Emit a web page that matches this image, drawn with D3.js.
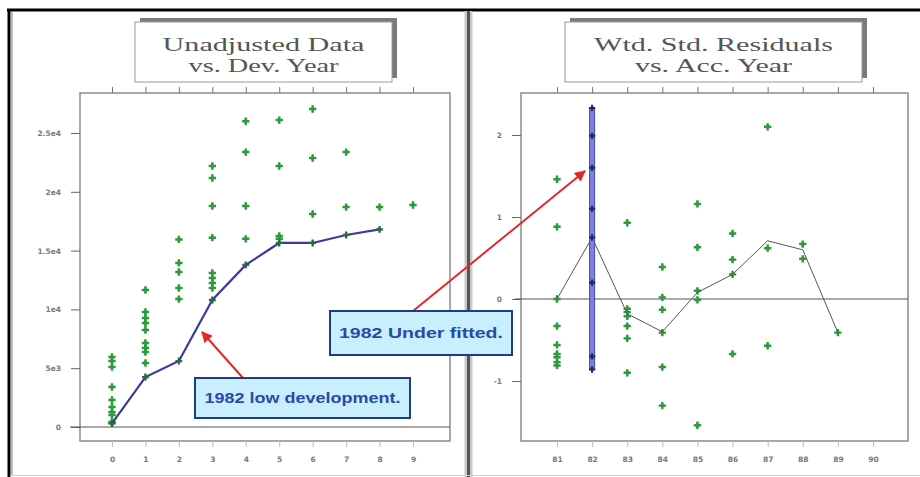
<!DOCTYPE html>
<html>
<head>
<meta charset="utf-8">
<script src="https://cdn.jsdelivr.net/npm/d3@7"></script>
<style>
  html, body { margin: 0; padding: 0; background: #fff; }
  svg { display: block; }
</style>
</head>
<body>
<svg id="chart" width="920" height="477"></svg>
<script>
// ---- Data: development triangle, unadjusted incremental values by development year
const devYears = [0, 1, 2, 3, 4, 5, 6, 7, 8, 9];
const devTickLabels = ["0", "1", "2", "3", "4", "5", "6", "7", "8", "9"];
const devValueTicks = [0, 5000, 10000, 15000, 20000, 25000];
const devValueTickLabels = ["0", "5e3", "1e4", "1.5e4", "2e4", "2.5e4"];
const devObserved = [
  [5950, 5610, 5100, 3400, 2300, 1700, 1280, 1020, 425, 340],
  [11650, 9780, 9270, 8840, 8250, 7140, 6720, 6380, 5440],
  [15950, 13950, 13180, 11820, 10880],
  [22190, 21170, 18790, 16100, 13100, 12670, 12240, 11820],
  [26000, 23380, 18790, 16000],
  [26100, 22190, 16250, 16000],
  [27040, 22870, 18110],
  [23380, 18700],
  [18700],
  [18880]
];
// 1982 accident year path across development years 0..8
const path1982 = [300, 4250, 5610, 10800, 13780, 15650, 15650, 16330, 16800];

// ---- Data: weighted standardised residuals by accident year
const accYears = [81, 82, 83, 84, 85, 86, 87, 88, 89, 90];
const accTickLabels = ["81", "82", "83", "84", "85", "86", "87", "88", "89", "90"];
const residTicks = [-1, 0, 1, 2];
const residTickLabels = ["-1", "0", "1", "2"];
const residuals = [
  [1.46, 0.88, 0.0, -0.33, -0.56, -0.67, -0.71, -0.77, -0.81],
  [],
  [0.93, -0.12, -0.16, -0.21, -0.33, -0.48, -0.9],
  [0.39, 0.02, -0.13, -0.41, -0.83, -1.3],
  [1.16, 0.63, 0.1, -0.01, -1.54],
  [0.8, 0.48, 0.3, -0.67],
  [2.1, 0.62, -0.57],
  [0.67, 0.49],
  [-0.41],
  []
];
const residuals1982 = [2.33, 1.99, 1.60, 1.10, 0.75, 0.2, -0.7, -0.86];
const residMeans = [0, 0.75, -0.18, -0.4, 0.08, 0.3, 0.71, 0.6, -0.41];

const svg = d3.select("#chart");
const GREEN = "#2f9a3c";

// red arrowhead marker
svg.append("defs").append("marker")
  .attr("id", "redArrow")
  .attr("viewBox", "0 0 10 10")
  .attr("refX", 9).attr("refY", 5)
  .attr("markerWidth", 13).attr("markerHeight", 11)
  .attr("markerUnits", "userSpaceOnUse")
  .attr("orient", "auto")
  .append("path").attr("d", "M0,0 L10,5 L0,10 Z").attr("fill", "#e3262a");

// ---- page frame
svg.append("rect").attr("x", 0).attr("y", 0).attr("width", 920).attr("height", 477).attr("fill", "#fff");
svg.append("line").attr("x1", 7).attr("x2", 920).attr("y1", 10).attr("y2", 10).attr("stroke", "#000").attr("stroke-width", 3);
svg.append("line").attr("x1", 9).attr("x2", 9).attr("y1", 9).attr("y2", 477).attr("stroke", "#000").attr("stroke-width", 3);
svg.append("line").attr("x1", 12).attr("x2", 12).attr("y1", 12).attr("y2", 475).attr("stroke", "#bbb").attr("stroke-width", 2);
svg.append("line").attr("x1", 468.5).attr("x2", 468.5).attr("y1", 11).attr("y2", 477).attr("stroke", "#c8c8c8").attr("stroke-width", 8);
svg.append("line").attr("x1", 468.5).attr("x2", 468.5).attr("y1", 11).attr("y2", 477).attr("stroke", "#555").attr("stroke-width", 3);
svg.append("line").attr("x1", 10).attr("x2", 920).attr("y1", 475.5).attr("y2", 475.5).attr("stroke", "#d0d0d0").attr("stroke-width", 1);

// ---- shared drawing helpers
function titleBox(x, y, w, h, lines, widths) {
  const g = svg.append("g");
  g.append("rect").attr("x", x + 5).attr("y", y - 4).attr("width", w).attr("height", h).attr("fill", "#7a7a7a");
  g.append("rect").attr("x", x).attr("y", y).attr("width", w).attr("height", h)
    .attr("fill", "#fff").attr("stroke", "#9a9a9a").attr("stroke-width", 1);
  lines.forEach((t, i) => {
    g.append("text").attr("x", x + w / 2).attr("y", y + 29 + i * 21)
      .attr("text-anchor", "middle")
      .attr("font-family", "'Liberation Serif', 'Times New Roman', serif")
      .attr("font-size", 18).attr("fill", "#555")
      .attr("textLength", widths[i]).attr("lengthAdjust", "spacingAndGlyphs")
      .text(t);
  });
}

function panel(opts) {
  const { xs, ys, left, right, top, bottom, xTicks, xLabels, yTicks, yLabels, tickX0 } = opts;
  const g = svg.append("g");
  g.append("rect").attr("x", left).attr("y", top).attr("width", right - left).attr("height", bottom - top)
    .attr("fill", "#fff").attr("stroke", "#8c8c8c").attr("stroke-width", 1.5);

  // top ticks
  const topAxis = d3.axisTop(xs).tickValues(xTicks).tickSize(6).tickFormat("");
  g.append("g").attr("transform", `translate(0,${top})`).call(topAxis)
    .call(a => a.select(".domain").remove())
    .call(a => a.selectAll("line").attr("stroke", "#777"));

  // bottom ticks and labels
  const bottomAxis = d3.axisBottom(xs).tickValues(xTicks).tickSize(6).tickPadding(10)
    .tickFormat((d, i) => xLabels[i]);
  g.append("g").attr("transform", `translate(0,${bottom})`).call(bottomAxis)
    .call(a => a.select(".domain").remove())
    .call(a => a.selectAll("line").attr("stroke", "#bbb"))
    .call(a => a.selectAll("text").attr("fill", "#777").attr("font-size", 7.5)
      .attr("font-family", "'DejaVu Sans', sans-serif").attr("font-weight", "bold"));

  // left ticks and labels
  const leftAxis = d3.axisLeft(ys).tickValues(yTicks).tickSize(9).tickPadding(10)
    .tickFormat((d, i) => yLabels[i]);
  g.append("g").attr("transform", `translate(${left},0)`).call(leftAxis)
    .call(a => a.select(".domain").remove())
    .call(a => a.selectAll("line").attr("stroke", "#666"))
    .call(a => a.selectAll("text").attr("fill", "#777").attr("font-size", 7.5)
      .attr("font-family", "'DejaVu Sans', sans-serif").attr("font-weight", "bold"));

  // zero reference line
  g.append("line").attr("x1", tickX0).attr("x2", right).attr("y1", ys(0)).attr("y2", ys(0))
    .attr("stroke", "#555").attr("stroke-width", 1.2);
  return g;
}

// chunky plus marker: a cross with a small diamond at its centre
function drawMarkers(sel, color, size) {
  sel.append("path").attr("d", d3.symbol().type(d3.symbolCross).size(size)).attr("fill", color);
  sel.append("path").attr("d", d3.symbol().type(d3.symbolDiamond).size(size * 0.45)).attr("fill", color);
}

// ---- Left panel: unadjusted data vs development year
const xL = d3.scaleLinear().domain([0, 9]).range([112, 413]);
const yL = d3.scaleLinear().domain([0, 25000]).range([427, 133]);
panel({ xs: xL, ys: yL, left: 80, right: 450, top: 93, bottom: 441,
  xTicks: devYears, xLabels: devTickLabels, yTicks: devValueTicks, yLabels: devValueTickLabels, tickX0: 70 });

const leftPts = [];
devObserved.forEach((vals, i) => vals.forEach(v => leftPts.push({ x: devYears[i], y: v })));
svg.append("g").selectAll("g").data(leftPts).join("g")
  .attr("transform", d => `translate(${xL(d.x)},${yL(d.y)})`)
  .call(s => drawMarkers(s, GREEN, 30));

const pathPts = path1982.map((v, i) => ({ x: devYears[i], y: v }));
svg.append("path").datum(pathPts)
  .attr("d", d3.line().x(d => xL(d.x)).y(d => yL(d.y)))
  .attr("fill", "none").attr("stroke", "#3b3b9e").attr("stroke-width", 2.2);
svg.append("g").selectAll("g").data(pathPts).join("g")
  .attr("transform", d => `translate(${xL(d.x)},${yL(d.y)})`)
  .call(s => drawMarkers(s, "#2a6a45", 26));

titleBox(135, 22, 257, 60, ["Unadjusted Data", "vs. Dev. Year"], [202, 150]);

// ---- Right panel: residuals vs accident year
const xR = d3.scaleLinear().domain([81, 90]).range([557, 873]);
const yR = d3.scaleLinear().domain([-1, 2]).range([381, 135]);
panel({ xs: xR, ys: yR, left: 521, right: 908, top: 93, bottom: 441,
  xTicks: accYears, xLabels: accTickLabels, yTicks: residTicks, yLabels: residTickLabels, tickX0: 515 });

const rightPts = [];
residuals.forEach((vals, i) => vals.forEach(v => rightPts.push({ x: accYears[i], y: v })));
svg.append("g").selectAll("g").data(rightPts).join("g")
  .attr("transform", d => `translate(${xR(d.x)},${yR(d.y)})`)
  .call(s => drawMarkers(s, GREEN, 30));

svg.append("path").datum(residMeans.map((v, i) => ({ x: accYears[i], y: v })))
  .attr("d", d3.line().x(d => xR(d.x)).y(d => yR(d.y)))
  .attr("fill", "none").attr("stroke", "#555").attr("stroke-width", 1);

// highlighted 1982 column
const colTop = yR(d3.max(residuals1982)), colBot = yR(d3.min(residuals1982));
svg.append("rect").attr("x", xR(82) - 2.5).attr("y", colTop).attr("width", 5).attr("height", colBot - colTop)
  .attr("fill", "#8080e0").attr("stroke", "#4646b0").attr("stroke-width", 1);
svg.append("g").selectAll("g").data(residuals1982).join("g")
  .attr("transform", d => `translate(${xR(82)},${yR(d)})`)
  .call(s => drawMarkers(s, "#1d2a60", 22));

titleBox(565, 22, 297, 60, ["Wtd. Std. Residuals", "vs. Acc. Year"], [239, 157]);

// ---- annotations
function callout(bx, by, bw, bh, text, tw, from, to) {
  svg.append("line").attr("x1", from[0]).attr("y1", from[1]).attr("x2", to[0]).attr("y2", to[1])
    .attr("stroke", "#e3262a").attr("stroke-width", 2).attr("marker-end", "url(#redArrow)");
  svg.append("rect").attr("x", bx).attr("y", by).attr("width", bw).attr("height", bh)
    .attr("fill", "#c9efff").attr("stroke", "#1e3a8c").attr("stroke-width", 2);
  svg.append("text").attr("x", bx + bw / 2).attr("y", by + bh / 2 + 5)
    .attr("text-anchor", "middle").attr("font-family", "'Liberation Sans', Arial, sans-serif")
    .attr("font-weight", "bold").attr("font-size", 15).attr("fill", "#2b4aa6")
    .attr("textLength", tw).attr("lengthAdjust", "spacingAndGlyphs")
    .text(text);
}
callout(195, 378, 215, 40, "1982 low development.", 196, [243, 378], [202, 332]);
callout(330, 311, 182, 44, "1982 Under fitted.", 164, [413, 311], [585, 171]);
</script>
</body>
</html>
